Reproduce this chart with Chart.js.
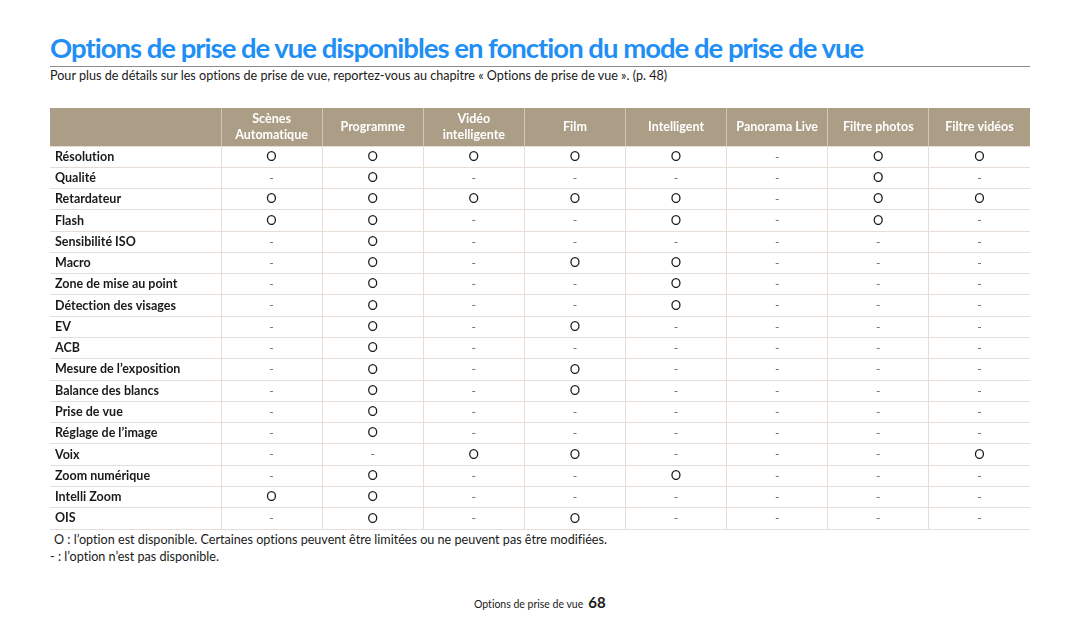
<!DOCTYPE html>
<html lang="fr">
<head>
<meta charset="utf-8">
<title>Options de prise de vue</title>
<script src="https://cdn.jsdelivr.net/npm/chart.js@4.4.1/dist/chart.umd.min.js"></script>
<style>
    body { margin: 0; width: 1080px; height: 630px; background: #fff; position: relative; overflow: hidden; font-family: 'Lato', sans-serif; color: #1a1a1a; font-variant-ligatures: none; }
    .title { position: absolute; left: 50px; top: 31px; font-size: 27.5px; font-weight: bold; color: #1f8ff5; white-space: nowrap; letter-spacing: -1px; }
    .rule { position: absolute; left: 50px; top: 66px; width: 980px; height: 0; border-top: 1.5px solid #8c8c8c; }
    .intro { position: absolute; left: 50px; top: 68px; font-size: 12.6px; white-space: nowrap; }
    .note { position: absolute; font-size: 12.6px; white-space: nowrap; }
    .footer { position: absolute; left: 474px; top: 593px; font-size: 10.5px; white-space: nowrap; }
    .footer b { font-size: 15px; margin-left: 5px; }
    #chart { position: absolute; left: 50px; top: 108px; }
</style>
</head>
<body>
<div class="title">Options de prise de vue disponibles en fonction du mode de prise de vue</div>
<div class="rule"></div>
<div class="intro">Pour plus de détails sur les options de prise de vue, reportez-vous au chapitre « Options de prise de vue ». (p. 48)</div>
<canvas id="chart" width="980" height="422"></canvas>
<div class="note" style="left:54px; top:532px;">O : l’option est disponible. Certaines options peuvent être limitées ou ne peuvent pas être modifiées.</div>
<div class="note" style="left:50px; top:549px;">- : l’option n’est pas disponible.</div>
<div class="footer">Options de prise de vue<b>68</b></div>
<script>
// colonnes (modes) et lignes (options)
const modes = ['Scènes Automatique', 'Programme', 'Vidéo intelligente', 'Film', 'Intelligent', 'Panorama Live', 'Filtre photos', 'Filtre vidéos'];
const modeLabels = [['Scènes', 'Automatique'], ['Programme'], ['Vidéo', 'intelligente'], ['Film'], ['Intelligent'], ['Panorama Live'], ['Filtre photos'], ['Filtre vidéos']];
const options = ['Résolution', 'Qualité', 'Retardateur', 'Flash', 'Sensibilité ISO', 'Macro', 'Zone de mise au point', 'Détection des visages', 'EV', 'ACB', 'Mesure de l’exposition', 'Balance des blancs', 'Prise de vue', 'Réglage de l’image', 'Voix', 'Zoom numérique', 'Intelli Zoom', 'OIS'];

// une liste par mode, dans l'ordre des options
const scenesAuto   = ['O', '-', 'O', 'O', '-', '-', '-', '-', '-', '-', '-', '-', '-', '-', '-', '-', 'O', '-'];
const programme    = ['O', 'O', 'O', 'O', 'O', 'O', 'O', 'O', 'O', 'O', 'O', 'O', 'O', 'O', '-', 'O', 'O', 'O'];
const videoIntel   = ['O', '-', 'O', '-', '-', '-', '-', '-', '-', '-', '-', '-', '-', '-', 'O', '-', '-', '-'];
const film         = ['O', '-', 'O', '-', '-', 'O', '-', '-', 'O', '-', 'O', 'O', '-', '-', 'O', '-', '-', 'O'];
const intelligent  = ['O', '-', 'O', 'O', '-', 'O', 'O', 'O', '-', '-', '-', '-', '-', '-', '-', 'O', '-', '-'];
const panorama     = ['-', '-', '-', '-', '-', '-', '-', '-', '-', '-', '-', '-', '-', '-', '-', '-', '-', '-'];
const filtrePhotos = ['O', 'O', 'O', 'O', '-', '-', '-', '-', '-', '-', '-', '-', '-', '-', '-', '-', '-', '-'];
const filtreVideos = ['O', '-', 'O', '-', '-', '-', '-', '-', '-', '-', '-', '-', '-', '-', 'O', '-', '-', '-'];

const columns = [scenesAuto, programme, videoIntel, film, intelligent, panorama, filtrePhotos, filtreVideos];

const HEADER_BG = '#ac9e86';
const LINE = '#e6ddd7';

// fond et libellés de l'en-tête
const headerPlugin = {
    id: 'header',
    beforeDraw(chart) {
        const { ctx, scales: { x } } = chart;
        ctx.save();
        ctx.fillStyle = HEADER_BG;
        ctx.fillRect(0, x.top, chart.width, x.bottom - x.top);
        ctx.restore();
    },
    afterDraw(chart) {
        const { ctx, scales: { x } } = chart;
        const mid = (x.top + x.bottom) / 2;
        ctx.save();
        ctx.fillStyle = '#ffffff';
        ctx.font = 'bold 12.5px Lato';
        ctx.textAlign = 'center';
        ctx.textBaseline = 'middle';
        modeLabels.forEach((lines, i) => {
            const cx = x.getPixelForValue(i);
            lines.forEach((t, k) => {
                ctx.fillText(t, cx, mid + (k - (lines.length - 1) / 2) * 16);
            });
        });
        ctx.restore();
    }
};

// texte de chaque cellule, placé sur le point calculé par les échelles
const cellPlugin = {
    id: 'cells',
    afterDatasetsDraw(chart) {
        const { ctx } = chart;
        ctx.save();
        ctx.textAlign = 'center';
        ctx.textBaseline = 'middle';
        chart.data.datasets.forEach((ds, i) => {
            chart.getDatasetMeta(i).data.forEach((el, j) => {
                const v = ds.data[j].v;
                ctx.fillStyle = v === 'O' ? '#1a1a1a' : '#666';
                ctx.font = v === 'O' ? '13px Lato' : '12px Lato';
                ctx.fillText(v, el.x, el.y);
            });
        });
        ctx.restore();
    }
};

const chart = new Chart(document.getElementById('chart'), {
    type: 'scatter',
    data: {
        datasets: modes.map((m, i) => ({
            label: m,
            data: options.map((o, j) => ({ x: m, y: o, v: columns[i][j] })),
            pointRadius: 0,
        }))
    },
    options: {
        responsive: false,
        animation: false,
        layout: { padding: { left: 5, right: 0, top: 0, bottom: 1 } },
        plugins: {
            legend: { display: false },
            tooltip: { enabled: false },
        },
        scales: {
            x: {
                type: 'category',
                labels: modes,
                position: 'top',
                offset: true,
                border: { display: false },
                grid: {
                    offset: true,
                    color: c => c.index === modes.length ? 'transparent' : LINE,
                    tickColor: c => c.index === modes.length ? 'transparent' : '#cfc8b4',
                    tickLength: 38,
                },
                ticks: { display: false },
                afterFit: s => { s.height = 38; s.paddingLeft = 0; s.paddingRight = 0; },
            },
            y: {
                type: 'category',
                labels: options,
                offset: true,
                border: { display: false },
                grid: {
                    offset: true,
                    color: c => c.index === options.length ? '#e6b9bb' : LINE,
                    tickColor: c => c.index === options.length ? '#e6b9bb' : LINE,
                    tickLength: 171,
                },
                ticks: {
                    crossAlign: 'far',
                    color: '#1a1a1a',
                    font: { family: 'Lato', size: 12.5, weight: 'bold' },
                },
                afterFit: s => { s.width = 166; s.paddingTop = 0; s.paddingBottom = 0; },
            }
        }
    },
    plugins: [headerPlugin, cellPlugin]
});
</script>
</body>
</html>
